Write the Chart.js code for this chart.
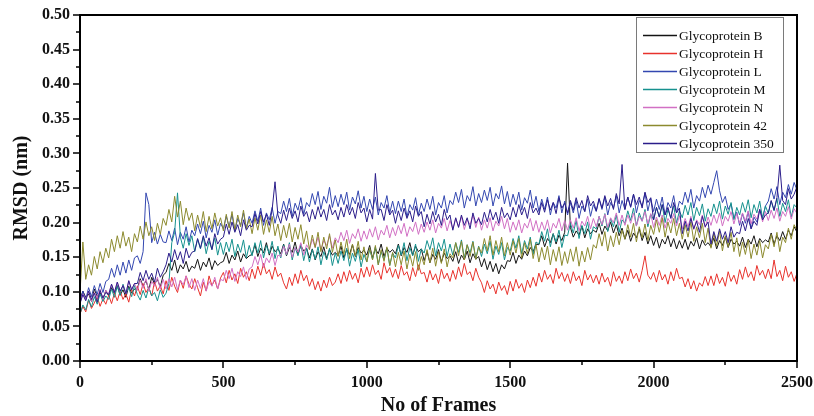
<!DOCTYPE html>
<html>
<head>
<meta charset="utf-8">
<script src="https://cdn.jsdelivr.net/npm/chart.js@4/dist/chart.umd.min.js"></script>
<style>
  body { margin: 0; background: #fff; }
  #wrap { width: 814px; height: 416px; }
</style>
</head>
<body>
<div id="wrap"><canvas id="rmsdChart" width="814" height="416"></canvas></div>
<script>
// frames, read every 10 frames
const frames = [
  0, 10, 20, 30, 40, 50, 60, 70, 80, 90,
  100, 110, 120, 130, 140, 150, 160, 170, 180, 190,
  200, 210, 220, 230, 240, 250, 260, 270, 280, 290,
  300, 310, 320, 330, 340, 350, 360, 370, 380, 390,
  400, 410, 420, 430, 440, 450, 460, 470, 480, 490,
  500, 510, 520, 530, 540, 550, 560, 570, 580, 590,
  600, 610, 620, 630, 640, 650, 660, 670, 680, 690,
  700, 710, 720, 730, 740, 750, 760, 770, 780, 790,
  800, 810, 820, 830, 840, 850, 860, 870, 880, 890,
  900, 910, 920, 930, 940, 950, 960, 970, 980, 990,
  1000, 1010, 1020, 1030, 1040, 1050, 1060, 1070, 1080, 1090,
  1100, 1110, 1120, 1130, 1140, 1150, 1160, 1170, 1180, 1190,
  1200, 1210, 1220, 1230, 1240, 1250, 1260, 1270, 1280, 1290,
  1300, 1310, 1320, 1330, 1340, 1350, 1360, 1370, 1380, 1390,
  1400, 1410, 1420, 1430, 1440, 1450, 1460, 1470, 1480, 1490,
  1500, 1510, 1520, 1530, 1540, 1550, 1560, 1570, 1580, 1590,
  1600, 1610, 1620, 1630, 1640, 1650, 1660, 1670, 1680, 1690,
  1700, 1710, 1720, 1730, 1740, 1750, 1760, 1770, 1780, 1790,
  1800, 1810, 1820, 1830, 1840, 1850, 1860, 1870, 1880, 1890,
  1900, 1910, 1920, 1930, 1940, 1950, 1960, 1970, 1980, 1990,
  2000, 2010, 2020, 2030, 2040, 2050, 2060, 2070, 2080, 2090,
  2100, 2110, 2120, 2130, 2140, 2150, 2160, 2170, 2180, 2190,
  2200, 2210, 2220, 2230, 2240, 2250, 2260, 2270, 2280, 2290,
  2300, 2310, 2320, 2330, 2340, 2350, 2360, 2370, 2380, 2390,
  2400, 2410, 2420, 2430, 2440, 2450, 2460, 2470, 2480, 2490,
  2500
]

const glycoB = [
  0.088, 0.101, 0.092, 0.097, 0.086, 0.104, 0.093, 0.099, 0.089, 0.102,
  0.094, 0.106, 0.097, 0.109, 0.095, 0.103, 0.092, 0.108, 0.098, 0.104,
  0.105, 0.119, 0.108, 0.116, 0.103, 0.121, 0.111, 0.118, 0.107, 0.124,
  0.128, 0.141, 0.131, 0.146, 0.127, 0.139, 0.133, 0.144, 0.129, 0.137,
  0.134, 0.147, 0.131, 0.143, 0.136, 0.149, 0.132, 0.145, 0.138, 0.142,
  0.144, 0.157, 0.141, 0.153, 0.146, 0.159, 0.143, 0.155, 0.148, 0.152,
  0.154, 0.168, 0.151, 0.163, 0.156, 0.171, 0.153, 0.166, 0.158, 0.162,
  0.155, 0.169, 0.152, 0.164, 0.157, 0.172, 0.154, 0.167, 0.159, 0.163,
  0.149, 0.162, 0.146, 0.158, 0.151, 0.165, 0.148, 0.161, 0.153, 0.157,
  0.152, 0.166, 0.149, 0.161, 0.154, 0.168, 0.151, 0.164, 0.156, 0.160,
  0.153, 0.167, 0.149, 0.162, 0.155, 0.169, 0.151, 0.163, 0.157, 0.161,
  0.155, 0.169, 0.152, 0.164, 0.157, 0.171, 0.153, 0.166, 0.158, 0.162,
  0.145, 0.158, 0.142, 0.154, 0.147, 0.161, 0.143, 0.156, 0.148, 0.152,
  0.144, 0.158, 0.141, 0.153, 0.146, 0.159, 0.142, 0.155, 0.147, 0.151,
  0.136, 0.148, 0.132, 0.144, 0.129, 0.141, 0.126, 0.139, 0.133, 0.145,
  0.144, 0.157, 0.141, 0.153, 0.147, 0.159, 0.152, 0.164, 0.158, 0.169,
  0.168, 0.181, 0.165, 0.177, 0.171, 0.184, 0.169, 0.182, 0.174, 0.186,
  0.286, 0.193, 0.179, 0.188, 0.182, 0.195, 0.178, 0.191, 0.184, 0.189,
  0.186, 0.199, 0.183, 0.195, 0.188, 0.201, 0.185, 0.197, 0.181, 0.192,
  0.176, 0.189, 0.173, 0.185, 0.178, 0.191, 0.174, 0.186, 0.169, 0.181,
  0.167, 0.179, 0.163, 0.176, 0.169, 0.181, 0.165, 0.177, 0.162, 0.174,
  0.163, 0.176, 0.161, 0.173, 0.166, 0.178, 0.162, 0.175, 0.167, 0.171,
  0.165, 0.178, 0.162, 0.174, 0.167, 0.179, 0.164, 0.176, 0.169, 0.173,
  0.166, 0.179, 0.164, 0.176, 0.169, 0.181, 0.165, 0.177, 0.171, 0.175,
  0.172, 0.185, 0.169, 0.181, 0.174, 0.187, 0.176, 0.189, 0.181, 0.194,
  0.186
]
const glycoH = [
  0.068, 0.079, 0.071, 0.088, 0.076, 0.084, 0.093, 0.079, 0.090, 0.082,
  0.095, 0.083, 0.098, 0.087, 0.101, 0.089, 0.097, 0.085, 0.104, 0.094,
  0.108, 0.096, 0.112, 0.099, 0.106, 0.094, 0.115, 0.101, 0.109, 0.097,
  0.116, 0.102, 0.121, 0.108, 0.099, 0.117, 0.105, 0.123, 0.111, 0.104,
  0.119, 0.106, 0.094, 0.114, 0.101, 0.123, 0.109, 0.117, 0.104, 0.120,
  0.128, 0.113, 0.131, 0.117, 0.126, 0.112, 0.134, 0.121, 0.129, 0.116,
  0.133, 0.119, 0.137, 0.124, 0.141, 0.126, 0.132, 0.118, 0.136, 0.122,
  0.127, 0.113, 0.104, 0.121, 0.109, 0.126, 0.112, 0.131, 0.116, 0.124,
  0.108, 0.119, 0.103, 0.115, 0.101, 0.117, 0.106, 0.121, 0.109, 0.114,
  0.126, 0.112, 0.129, 0.115, 0.131, 0.118, 0.127, 0.113, 0.134, 0.121,
  0.136, 0.122, 0.139, 0.125, 0.131, 0.118, 0.142, 0.127, 0.135, 0.121,
  0.133, 0.119, 0.138, 0.124, 0.129, 0.116, 0.135, 0.122, 0.139, 0.126,
  0.128, 0.114, 0.131, 0.117, 0.126, 0.112, 0.133, 0.119, 0.127, 0.115,
  0.131, 0.118, 0.136, 0.122, 0.141, 0.125, 0.129, 0.116, 0.134, 0.121,
  0.113, 0.099, 0.116, 0.104, 0.111, 0.097, 0.114, 0.102, 0.109, 0.096,
  0.115, 0.101, 0.118, 0.105, 0.112, 0.099, 0.117, 0.106, 0.121, 0.108,
  0.127, 0.114, 0.131, 0.118, 0.125, 0.112, 0.134, 0.119, 0.128, 0.115,
  0.126, 0.112, 0.129, 0.116, 0.123, 0.109, 0.131, 0.117, 0.125, 0.113,
  0.124, 0.111, 0.127, 0.114, 0.121, 0.108, 0.129, 0.115, 0.123, 0.112,
  0.129, 0.116, 0.133, 0.119, 0.127, 0.114, 0.131, 0.152, 0.124, 0.118,
  0.128, 0.114, 0.131, 0.117, 0.125, 0.111, 0.129, 0.116, 0.134, 0.119,
  0.121, 0.107, 0.119, 0.104, 0.116, 0.101, 0.113, 0.108, 0.122, 0.109,
  0.123, 0.109, 0.126, 0.112, 0.121, 0.108, 0.129, 0.115, 0.124, 0.111,
  0.132, 0.118, 0.136, 0.121, 0.129, 0.116, 0.138, 0.124, 0.131, 0.119,
  0.133, 0.119, 0.146, 0.122, 0.131, 0.116, 0.137, 0.121, 0.129, 0.115,
  0.127
]
const glycoL = [
  0.086, 0.101, 0.089, 0.106, 0.093, 0.109, 0.096, 0.112, 0.099, 0.115,
  0.118, 0.134, 0.121, 0.139, 0.124, 0.143, 0.127, 0.146, 0.131, 0.149,
  0.152, 0.141, 0.158, 0.243, 0.226, 0.171, 0.186, 0.169, 0.183, 0.172,
  0.171, 0.188, 0.174, 0.192, 0.168, 0.186, 0.176, 0.194, 0.172, 0.189,
  0.181, 0.198, 0.184, 0.202, 0.178, 0.196, 0.186, 0.204, 0.182, 0.199,
  0.191, 0.209, 0.194, 0.212, 0.188, 0.206, 0.196, 0.214, 0.192, 0.209,
  0.199, 0.217, 0.202, 0.221, 0.196, 0.214, 0.204, 0.222, 0.199, 0.216,
  0.213, 0.231, 0.216, 0.235, 0.209, 0.228, 0.218, 0.236, 0.212, 0.229,
  0.223, 0.242, 0.226, 0.245, 0.219, 0.238, 0.228, 0.251, 0.222, 0.239,
  0.223, 0.241, 0.226, 0.244, 0.218, 0.237, 0.227, 0.246, 0.221, 0.238,
  0.216, 0.234, 0.219, 0.237, 0.211, 0.229, 0.221, 0.239, 0.214, 0.231,
  0.213, 0.231, 0.216, 0.234, 0.208, 0.226, 0.218, 0.236, 0.211, 0.228,
  0.216, 0.234, 0.219, 0.238, 0.211, 0.229, 0.221, 0.239, 0.214, 0.232,
  0.226, 0.244, 0.229, 0.248, 0.221, 0.239, 0.231, 0.252, 0.224, 0.242,
  0.229, 0.247, 0.232, 0.251, 0.224, 0.242, 0.234, 0.253, 0.227, 0.245,
  0.223, 0.241, 0.226, 0.244, 0.218, 0.236, 0.228, 0.247, 0.221, 0.238,
  0.216, 0.234, 0.219, 0.237, 0.211, 0.229, 0.221, 0.239, 0.214, 0.231,
  0.211, 0.229, 0.214, 0.232, 0.206, 0.224, 0.216, 0.234, 0.209, 0.226,
  0.216, 0.234, 0.219, 0.237, 0.211, 0.229, 0.221, 0.239, 0.214, 0.232,
  0.219, 0.237, 0.222, 0.241, 0.214, 0.232, 0.224, 0.243, 0.217, 0.235,
  0.216, 0.234, 0.219, 0.237, 0.211, 0.229, 0.221, 0.239, 0.214, 0.231,
  0.226, 0.244, 0.229, 0.248, 0.221, 0.239, 0.231, 0.251, 0.236, 0.254,
  0.241, 0.258, 0.275, 0.246, 0.229, 0.238, 0.219, 0.227, 0.206, 0.215,
  0.196, 0.213, 0.199, 0.216, 0.191, 0.208, 0.201, 0.219, 0.207, 0.224,
  0.231, 0.249, 0.234, 0.252, 0.226, 0.244, 0.236, 0.255, 0.241, 0.258,
  0.247
]
const glycoM = [
  0.068, 0.081, 0.074, 0.089, 0.078, 0.093, 0.082, 0.097, 0.086, 0.094,
  0.089, 0.104, 0.092, 0.108, 0.095, 0.111, 0.098, 0.106, 0.093, 0.109,
  0.096, 0.088, 0.102, 0.091, 0.106, 0.094, 0.099, 0.087, 0.103, 0.092,
  0.098, 0.112, 0.171, 0.186, 0.243, 0.179, 0.163, 0.184, 0.167, 0.181,
  0.158, 0.176, 0.162, 0.179, 0.155, 0.173, 0.161, 0.178, 0.153, 0.171,
  0.154, 0.172, 0.158, 0.176, 0.151, 0.169, 0.157, 0.175, 0.149, 0.167,
  0.152, 0.171, 0.156, 0.174, 0.149, 0.167, 0.155, 0.173, 0.148, 0.166,
  0.149, 0.168, 0.153, 0.171, 0.146, 0.164, 0.152, 0.169, 0.145, 0.163,
  0.143, 0.161, 0.147, 0.165, 0.139, 0.158, 0.146, 0.163, 0.138, 0.156,
  0.141, 0.159, 0.145, 0.163, 0.137, 0.156, 0.144, 0.161, 0.136, 0.154,
  0.143, 0.161, 0.147, 0.165, 0.139, 0.158, 0.146, 0.163, 0.138, 0.156,
  0.149, 0.167, 0.153, 0.171, 0.145, 0.164, 0.152, 0.169, 0.144, 0.162,
  0.156, 0.174, 0.161, 0.178, 0.152, 0.171, 0.159, 0.176, 0.151, 0.169,
  0.153, 0.171, 0.157, 0.175, 0.149, 0.168, 0.156, 0.173, 0.148, 0.166,
  0.151, 0.169, 0.155, 0.173, 0.147, 0.166, 0.154, 0.171, 0.146, 0.164,
  0.159, 0.177, 0.163, 0.181, 0.155, 0.174, 0.162, 0.179, 0.154, 0.172,
  0.169, 0.187, 0.173, 0.191, 0.165, 0.184, 0.172, 0.189, 0.164, 0.182,
  0.181, 0.199, 0.185, 0.203, 0.177, 0.196, 0.184, 0.201, 0.176, 0.194,
  0.191, 0.209, 0.195, 0.213, 0.187, 0.206, 0.194, 0.211, 0.186, 0.204,
  0.199, 0.217, 0.203, 0.221, 0.195, 0.214, 0.202, 0.219, 0.194, 0.212,
  0.204, 0.222, 0.208, 0.226, 0.200, 0.219, 0.207, 0.224, 0.199, 0.217,
  0.207, 0.225, 0.211, 0.229, 0.203, 0.222, 0.210, 0.227, 0.202, 0.220,
  0.209, 0.227, 0.213, 0.231, 0.205, 0.224, 0.212, 0.229, 0.204, 0.222,
  0.211, 0.229, 0.215, 0.233, 0.207, 0.226, 0.214, 0.231, 0.206, 0.224,
  0.213, 0.231, 0.217, 0.235, 0.209, 0.228, 0.216, 0.233, 0.208, 0.226,
  0.221
]
const glycoN = [
  0.084, 0.097, 0.088, 0.101, 0.086, 0.099, 0.091, 0.104, 0.089, 0.102,
  0.097, 0.111, 0.099, 0.114, 0.101, 0.109, 0.097, 0.116, 0.103, 0.112,
  0.102, 0.117, 0.105, 0.119, 0.101, 0.115, 0.108, 0.121, 0.104, 0.118,
  0.104, 0.119, 0.107, 0.121, 0.103, 0.117, 0.110, 0.123, 0.106, 0.119,
  0.102, 0.117, 0.105, 0.119, 0.101, 0.115, 0.108, 0.121, 0.104, 0.118,
  0.116, 0.131, 0.119, 0.134, 0.115, 0.129, 0.122, 0.136, 0.118, 0.133,
  0.136, 0.151, 0.139, 0.154, 0.135, 0.149, 0.142, 0.156, 0.138, 0.153,
  0.151, 0.166, 0.154, 0.169, 0.150, 0.164, 0.157, 0.171, 0.153, 0.168,
  0.161, 0.176, 0.164, 0.179, 0.160, 0.174, 0.167, 0.181, 0.163, 0.178,
  0.171, 0.186, 0.174, 0.189, 0.170, 0.184, 0.177, 0.191, 0.173, 0.188,
  0.176, 0.191, 0.179, 0.194, 0.175, 0.189, 0.182, 0.196, 0.178, 0.193,
  0.181, 0.196, 0.184, 0.199, 0.180, 0.194, 0.187, 0.201, 0.183, 0.198,
  0.186, 0.201, 0.189, 0.204, 0.185, 0.199, 0.192, 0.206, 0.188, 0.203,
  0.191, 0.206, 0.194, 0.209, 0.190, 0.204, 0.197, 0.211, 0.193, 0.208,
  0.189, 0.204, 0.192, 0.207, 0.188, 0.202, 0.195, 0.209, 0.191, 0.206,
  0.186, 0.201, 0.189, 0.204, 0.185, 0.199, 0.192, 0.206, 0.188, 0.203,
  0.186, 0.201, 0.189, 0.204, 0.185, 0.199, 0.192, 0.206, 0.188, 0.203,
  0.189, 0.204, 0.192, 0.207, 0.188, 0.202, 0.195, 0.209, 0.191, 0.206,
  0.194, 0.209, 0.197, 0.212, 0.193, 0.207, 0.200, 0.214, 0.196, 0.211,
  0.196, 0.211, 0.199, 0.214, 0.195, 0.209, 0.202, 0.216, 0.198, 0.213,
  0.193, 0.208, 0.196, 0.211, 0.192, 0.206, 0.199, 0.213, 0.195, 0.210,
  0.191, 0.206, 0.194, 0.209, 0.190, 0.204, 0.197, 0.211, 0.193, 0.208,
  0.196, 0.211, 0.199, 0.214, 0.195, 0.209, 0.202, 0.216, 0.198, 0.213,
  0.199, 0.214, 0.202, 0.217, 0.198, 0.212, 0.205, 0.219, 0.201, 0.216,
  0.203, 0.218, 0.206, 0.221, 0.202, 0.216, 0.209, 0.223, 0.205, 0.220,
  0.213
]
const glyco42 = [
  0.098, 0.172, 0.118, 0.139, 0.124, 0.151, 0.133, 0.158, 0.142, 0.163,
  0.149, 0.176, 0.158, 0.181, 0.163, 0.187, 0.166, 0.179, 0.158, 0.184,
  0.172, 0.195, 0.176, 0.201, 0.181, 0.194, 0.174, 0.199, 0.183, 0.206,
  0.196, 0.219, 0.201, 0.238, 0.208, 0.231, 0.197, 0.221, 0.203, 0.214,
  0.188, 0.211, 0.193, 0.216, 0.187, 0.209, 0.191, 0.214, 0.195, 0.207,
  0.188, 0.212, 0.192, 0.216, 0.189, 0.211, 0.194, 0.218, 0.191, 0.205,
  0.184, 0.207, 0.189, 0.211, 0.183, 0.204, 0.186, 0.209, 0.181, 0.198,
  0.174, 0.196, 0.178, 0.199, 0.172, 0.193, 0.176, 0.197, 0.169, 0.188,
  0.161, 0.182, 0.164, 0.186, 0.158, 0.179, 0.162, 0.184, 0.157, 0.175,
  0.151, 0.172, 0.154, 0.176, 0.148, 0.169, 0.152, 0.173, 0.146, 0.165,
  0.143, 0.164, 0.146, 0.167, 0.139, 0.161, 0.144, 0.165, 0.138, 0.157,
  0.136, 0.157, 0.139, 0.159, 0.133, 0.154, 0.137, 0.158, 0.131, 0.151,
  0.139, 0.161, 0.142, 0.163, 0.137, 0.158, 0.141, 0.162, 0.136, 0.155,
  0.149, 0.171, 0.152, 0.173, 0.146, 0.168, 0.151, 0.172, 0.147, 0.165,
  0.156, 0.177, 0.159, 0.181, 0.153, 0.174, 0.158, 0.179, 0.152, 0.171,
  0.153, 0.174, 0.156, 0.177, 0.149, 0.171, 0.155, 0.176, 0.148, 0.168,
  0.143, 0.164, 0.146, 0.166, 0.139, 0.161, 0.144, 0.165, 0.138, 0.158,
  0.141, 0.162, 0.144, 0.165, 0.137, 0.159, 0.143, 0.164, 0.146, 0.168,
  0.163, 0.184, 0.166, 0.187, 0.159, 0.181, 0.165, 0.186, 0.168, 0.189,
  0.176, 0.197, 0.179, 0.199, 0.172, 0.194, 0.178, 0.198, 0.174, 0.196,
  0.183, 0.204, 0.186, 0.207, 0.179, 0.201, 0.185, 0.206, 0.181, 0.199,
  0.176, 0.197, 0.179, 0.201, 0.173, 0.194, 0.178, 0.199, 0.171, 0.192,
  0.163, 0.184, 0.166, 0.188, 0.159, 0.181, 0.165, 0.186, 0.158, 0.178,
  0.151, 0.172, 0.154, 0.175, 0.148, 0.169, 0.153, 0.174, 0.149, 0.168,
  0.162, 0.183, 0.165, 0.186, 0.158, 0.179, 0.171, 0.192, 0.176, 0.197,
  0.188
]
const glyco350 = [
  0.083, 0.096, 0.087, 0.101, 0.089, 0.098, 0.085, 0.102, 0.091, 0.099,
  0.096, 0.111, 0.099, 0.114, 0.101, 0.109, 0.097, 0.116, 0.103, 0.112,
  0.112, 0.128, 0.116, 0.131, 0.118, 0.127, 0.114, 0.134, 0.121, 0.129,
  0.139, 0.156, 0.143, 0.161, 0.146, 0.158, 0.141, 0.163, 0.149, 0.157,
  0.159, 0.177, 0.163, 0.181, 0.166, 0.178, 0.161, 0.184, 0.169, 0.176,
  0.179, 0.198, 0.183, 0.201, 0.186, 0.197, 0.181, 0.204, 0.189, 0.196,
  0.194, 0.213, 0.198, 0.216, 0.201, 0.212, 0.196, 0.219, 0.259, 0.211,
  0.199, 0.218, 0.203, 0.221, 0.206, 0.217, 0.201, 0.224, 0.209, 0.216,
  0.201, 0.219, 0.205, 0.223, 0.208, 0.219, 0.203, 0.226, 0.211, 0.218,
  0.204, 0.222, 0.208, 0.226, 0.211, 0.222, 0.206, 0.229, 0.214, 0.221,
  0.201, 0.219, 0.205, 0.271, 0.218, 0.219, 0.203, 0.226, 0.211, 0.218,
  0.199, 0.217, 0.203, 0.221, 0.206, 0.217, 0.201, 0.224, 0.209, 0.216,
  0.194, 0.212, 0.198, 0.216, 0.201, 0.212, 0.196, 0.219, 0.204, 0.211,
  0.189, 0.207, 0.193, 0.211, 0.196, 0.207, 0.191, 0.214, 0.199, 0.206,
  0.197, 0.215, 0.201, 0.219, 0.204, 0.215, 0.199, 0.222, 0.207, 0.214,
  0.204, 0.222, 0.208, 0.226, 0.211, 0.222, 0.206, 0.229, 0.214, 0.221,
  0.211, 0.229, 0.215, 0.233, 0.218, 0.229, 0.213, 0.236, 0.221, 0.228,
  0.214, 0.232, 0.218, 0.236, 0.221, 0.232, 0.216, 0.239, 0.224, 0.231,
  0.217, 0.235, 0.221, 0.239, 0.224, 0.235, 0.219, 0.242, 0.227, 0.284,
  0.219, 0.237, 0.223, 0.241, 0.226, 0.237, 0.221, 0.244, 0.229, 0.236,
  0.204, 0.222, 0.208, 0.226, 0.211, 0.222, 0.206, 0.229, 0.214, 0.221,
  0.184, 0.202, 0.188, 0.206, 0.191, 0.202, 0.186, 0.209, 0.194, 0.201,
  0.169, 0.187, 0.173, 0.191, 0.176, 0.187, 0.171, 0.194, 0.179, 0.186,
  0.184, 0.202, 0.188, 0.206, 0.191, 0.202, 0.196, 0.219, 0.204, 0.211,
  0.214, 0.232, 0.218, 0.236, 0.283, 0.232, 0.226, 0.249, 0.234, 0.241,
  0.252
]

const seriesNames = ["Glycoprotein B", "Glycoprotein H", "Glycoprotein L", "Glycoprotein M",
  "Glycoprotein N", "Glycoprotein 42", "Glycoprotein 350"]
const seriesValues = [glycoB, glycoH, glycoL, glycoM, glycoN, glyco42, glyco350]
const seriesColors = ["#141414", "#e8322c", "#3347b0", "#16918e", "#d170c4", "#8c8a2e", "#2b1d8a"]

const serif = "'Liberation Serif', 'Times New Roman', serif"

// frame box + outward major/minor ticks
const axisDecor = {
  id: "axisDecor",
  afterDraw(chart) {
    const { ctx, chartArea: a, scales: { x, y } } = chart
    ctx.save()
    ctx.strokeStyle = "#000"
    ctx.lineWidth = 2
    ctx.strokeRect(a.left, a.top, a.right - a.left, a.bottom - a.top)
    ctx.lineWidth = 1.5
    x.ticks.forEach((t) => {
      const px = Math.round(x.getPixelForValue(t.value))
      const len = t.value % 500 === 0 ? 7 : 4
      ctx.beginPath()
      ctx.moveTo(px, a.bottom)
      ctx.lineTo(px, a.bottom + len)
      ctx.stroke()
    })
    y.ticks.forEach((t) => {
      const py = Math.round(y.getPixelForValue(t.value))
      const len = Math.round(t.value * 1000) % 50 === 0 ? 7 : 4
      ctx.beginPath()
      ctx.moveTo(a.left, py)
      ctx.lineTo(a.left - len, py)
      ctx.stroke()
    })
    ctx.restore()
  },
}

// boxed legend in the upper right corner of the plot
const boxLegend = {
  id: "boxLegend",
  afterDraw(chart) {
    const { ctx, chartArea: a } = chart
    const w = 147, h = 135
    const left = a.right - 14 - w, top = a.top + 2
    ctx.save()
    ctx.fillStyle = "#fff"
    ctx.fillRect(left, top, w, h)
    ctx.strokeStyle = "#7a7a7a"
    ctx.lineWidth = 1
    ctx.strokeRect(left + 0.5, top + 0.5, w, h)
    ctx.font = "13.5px " + serif
    ctx.textBaseline = "middle"
    seriesNames.forEach((name, i) => {
      const yy = top + 18 + i * 18
      ctx.strokeStyle = seriesColors[i]
      ctx.lineWidth = 1.6
      ctx.beginPath()
      ctx.moveTo(left + 7, yy + 0.5)
      ctx.lineTo(left + 41, yy + 0.5)
      ctx.stroke()
      ctx.fillStyle = "#111"
      ctx.fillText(name, left + 43, yy + 1)
    })
    ctx.restore()
  },
}

new Chart(document.getElementById("rmsdChart"), {
  type: "line",
  data: {
    datasets: seriesNames.map((name, i) => ({
      label: name,
      data: frames.map((f, j) => ({ x: f, y: seriesValues[i][j] })),
      borderColor: seriesColors[i],
      borderWidth: 1,
      pointRadius: 0,
      tension: 0,
      order: seriesNames.length - i,
    })),
  },
  options: {
    responsive: false,
    animation: false,
    layout: { padding: { top: 15, right: 17, left: 0, bottom: 0 } },
    plugins: {
      legend: { display: false },
      tooltip: { enabled: false },
    },
    scales: {
      x: {
        type: "linear",
        min: 0,
        max: 2500,
        afterFit: (s) => {
          s.height = 55
          s.paddingLeft = 0
          s.paddingRight = 0
        },
        grid: { display: false, drawTicks: false },
        border: { display: false },
        ticks: {
          stepSize: 250,
          autoSkip: false,
          maxRotation: 0,
          padding: 12,
          color: "#111",
          font: { family: serif, size: 16, weight: "bold" },
          callback: (v) => (v % 500 === 0 ? String(v) : ""),
        },
        title: {
          display: true,
          text: "No of Frames",
          color: "#111",
          padding: { top: 0, bottom: -2 },
          font: { family: serif, size: 20, weight: "bold" },
        },
      },
      y: {
        min: 0,
        max: 0.5,
        afterFit: (s) => {
          s.width = 80
          s.paddingTop = 0
          s.paddingBottom = 0
        },
        grid: { display: false, drawTicks: false },
        border: { display: false },
        ticks: {
          stepSize: 0.025,
          autoSkip: false,
          padding: 10,
          color: "#111",
          font: { family: serif, size: 16, weight: "bold" },
          callback: (v) => (Math.round(v * 1000) % 50 === 0 ? v.toFixed(2) : ""),
        },
        title: {
          display: true,
          text: "RMSD (nm)",
          color: "#111",
          padding: { top: 10, bottom: 0 },
          font: { family: serif, size: 20, weight: "bold" },
        },
      },
    },
  },
  plugins: [axisDecor, boxLegend],
})
</script>
</body>
</html>
